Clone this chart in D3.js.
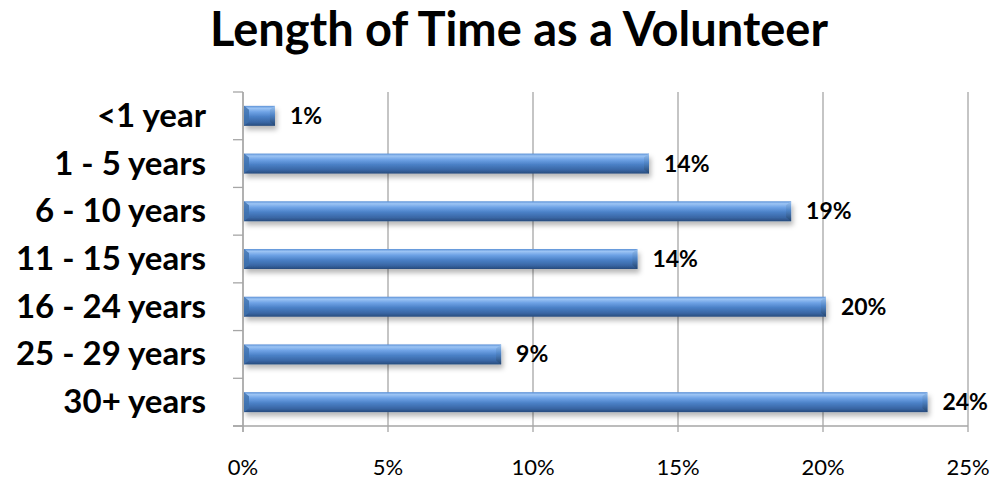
<!DOCTYPE html>
<html>
<head>
<meta charset="utf-8">
<script src="https://cdn.jsdelivr.net/npm/d3@7"></script>
<style>
  html, body { margin: 0; padding: 0; background: #fff; }
  svg { display: block; }
  text { font-family: Lato, "Open Sans", sans-serif; fill: #000; }
</style>
</head>
<body>
<svg id="chart" width="994" height="480"></svg>
<script>
// Share of volunteers by length of service
const categories = ["<1 year", "1 - 5 years", "6 - 10 years", "11 - 15 years", "16 - 24 years", "25 - 29 years", "30+ years"];
const values = [0.011, 0.140, 0.189, 0.136, 0.201, 0.089, 0.236];
const xTicks = [0, 0.05, 0.10, 0.15, 0.20, 0.25];
const title = "Length of Time as a Volunteer";

const svg = d3.select("#chart");
const W = 994, H = 480;
const plot = { left: 243, right: 968, top: 92, bottom: 426 };

const x = d3.scaleLinear().domain([0, 0.25]).range([plot.left, plot.right]);
const y = d3.scaleBand().domain(categories).range([plot.top, plot.bottom]).padding(0);
const barH = 20;
const pct = d3.format(".0%");

const defs = svg.append("defs");
const grad = defs.append("linearGradient").attr("id", "barFill")
  .attr("x1", 0).attr("y1", 0).attr("x2", 0).attr("y2", 1);
[[0, "#5a90d6"], [0.12, "#9cc4f4"], [0.3, "#6fa3e6"], [0.55, "#4a80c6"], [0.82, "#3966a4"], [1, "#274b7c"]]
  .forEach(([o, c]) => grad.append("stop").attr("offset", o).attr("stop-color", c));
const endGrad = defs.append("linearGradient").attr("id", "endFill")
  .attr("x1", 0).attr("y1", 0).attr("x2", 0).attr("y2", 1);
[[0, "#9cc3ef"], [0.45, "#5186c8"], [1, "#23446e"]]
  .forEach(([o, c]) => endGrad.append("stop").attr("offset", o).attr("stop-color", c));
const shadow = defs.append("filter").attr("id", "shadow")
  .attr("x", "-10%").attr("y", "-40%").attr("width", "130%").attr("height", "200%");
shadow.append("feDropShadow").attr("dx", 2).attr("dy", 4).attr("stdDeviation", 2.5)
  .attr("flood-color", "#000").attr("flood-opacity", 0.28);

// Title
svg.append("text")
  .attr("x", W / 2 + 22).attr("y", 46)
  .attr("text-anchor", "middle")
  .style("font-size", "47px").style("font-weight", 700)
  .text(title);

// Vertical gridlines (with small tick marks below the axis)
svg.append("g").selectAll("line").data(xTicks).join("line")
  .attr("x1", d => x(d)).attr("x2", d => x(d))
  .attr("y1", plot.top).attr("y2", plot.bottom + 6)
  .attr("stroke", "#a6a6a6").attr("stroke-width", 1.3);

// Bottom axis line
svg.append("line")
  .attr("x1", plot.left - 10).attr("x2", plot.right)
  .attr("y1", plot.bottom).attr("y2", plot.bottom)
  .attr("stroke", "#a6a6a6").attr("stroke-width", 1.3);

// Left axis line and category boundary ticks
svg.append("line")
  .attr("x1", plot.left).attr("x2", plot.left)
  .attr("y1", plot.top).attr("y2", plot.bottom + 6)
  .attr("stroke", "#a6a6a6").attr("stroke-width", 1.3);
const bounds = categories.map(c => y(c)).concat([plot.bottom]);
svg.append("g").selectAll("line").data(bounds).join("line")
  .attr("x1", plot.left - 10).attr("x2", plot.left)
  .attr("y1", d => d).attr("y2", d => d)
  .attr("stroke", "#a6a6a6").attr("stroke-width", 1.3);

// X tick labels
svg.append("g").selectAll("text").data(xTicks).join("text")
  .attr("x", d => x(d)).attr("y", 475)
  .attr("text-anchor", "middle")
  .style("font-size", "22px")
  .text(d => pct(d));

// Category labels
svg.append("g").selectAll("text").data(categories).join("text")
  .attr("x", 206).attr("y", d => y(d) + y.bandwidth() / 2 + 11)
  .attr("text-anchor", "end")
  .style("font-size", "33px").style("font-weight", 700)
  .text(d => d);

// Bars with bevelled ends
const rows = categories.map((c, i) => ({ c, v: values[i] }));
const bars = svg.append("g").selectAll("g").data(rows).join("g")
  .attr("filter", "url(#shadow)");
bars.append("rect")
  .attr("x", x(0) + 1)
  .attr("y", d => y(d.c) + y.bandwidth() / 2 - barH / 2)
  .attr("width", d => x(d.v) - x(0) - 1)
  .attr("height", barH)
  .attr("fill", "url(#barFill)");
const bev = 5;
bars.append("polygon")
  .attr("points", d => {
    const x1 = x(d.v), y0 = y(d.c) + y.bandwidth() / 2 - barH / 2, y1 = y0 + barH;
    return [[x1 - bev, y0 + 4], [x1, y0], [x1, y1], [x1 - bev, y1 - 4]].map(p => p.join(",")).join(" ");
  })
  .attr("fill", "url(#endFill)");
bars.append("polygon")
  .attr("points", d => {
    const x0 = x(0) + 1, y0 = y(d.c) + y.bandwidth() / 2 - barH / 2, y1 = y0 + barH;
    return [[x0, y0], [x0 + bev, y0 + 4], [x0 + bev, y1 - 4], [x0, y1]].map(p => p.join(",")).join(" ");
  })
  .attr("fill", "#3f70ad").attr("opacity", 0.8);

// Value labels
svg.append("g").selectAll("text").data(rows).join("text")
  .attr("x", d => x(d.v) + 15)
  .attr("y", d => y(d.c) + y.bandwidth() / 2 + 8)
  .style("font-size", "23px").style("font-weight", 700)
  .text(d => pct(d.v));
</script>
</body>
</html>
